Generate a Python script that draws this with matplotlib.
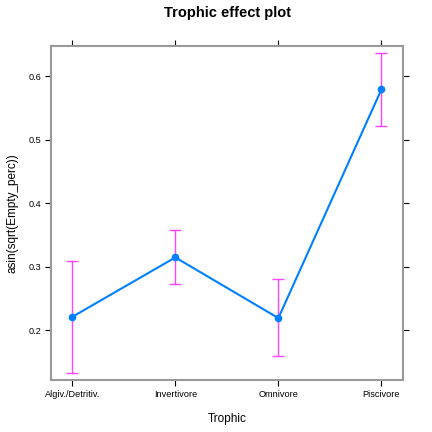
import numpy as np
import matplotlib
matplotlib.use("Agg")
import matplotlib.pyplot as plt

plt.rcParams['font.family'] = ['Liberation Sans', 'DejaVu Sans']

# effect estimates and confidence limits
trophic = ["Algiv./Detritiv.", "Invertivore", "Omnivore", "Piscivore"]
fit = [0.221, 0.3145, 0.219, 0.579]
lower = [0.133, 0.272, 0.159, 0.522]
upper = [0.309, 0.3575, 0.280, 0.636]

x = np.arange(1, len(trophic) + 1)
fit = np.array(fit)
lower = np.array(lower)
upper = np.array(upper)

fig = plt.figure(figsize=(4.32, 4.32), dpi=100)
ax = fig.add_axes([0.118, 0.120, 0.815, 0.774])

# confidence intervals with caps
ax.errorbar(x, fit, yerr=[fit - lower, upper - fit], fmt='none',
            ecolor='#ff44ff', elinewidth=1.0, capsize=4, capthick=1.0, zorder=2)
ax.plot(x, fit, color='#0080ff', lw=1.5, marker='o', ms=4.5, zorder=3)

ax.set_xlim(0.793, 4.21)
ax.set_ylim(0.1213, 0.6477)
ax.set_xticks(x, trophic)
ax.set_yticks([0.2, 0.3, 0.4, 0.5, 0.6])
ax.tick_params(direction='out', length=4, width=0.8, labelsize=6.6,
               top=True, right=True, labeltop=False, labelright=False, pad=3)
for s in ax.spines.values():
    s.set_color('#999999')
    s.set_linewidth(1.5)

ax.set_xlabel('Trophic', fontsize=8.5, labelpad=10)
ax.set_ylabel('asin(sqrt(Empty_perc))', fontsize=8.5, labelpad=7)
ax.set_title('Trophic effect plot', fontsize=10.5, fontweight='bold', pad=21)

fig.savefig('out.png', dpi=100)
